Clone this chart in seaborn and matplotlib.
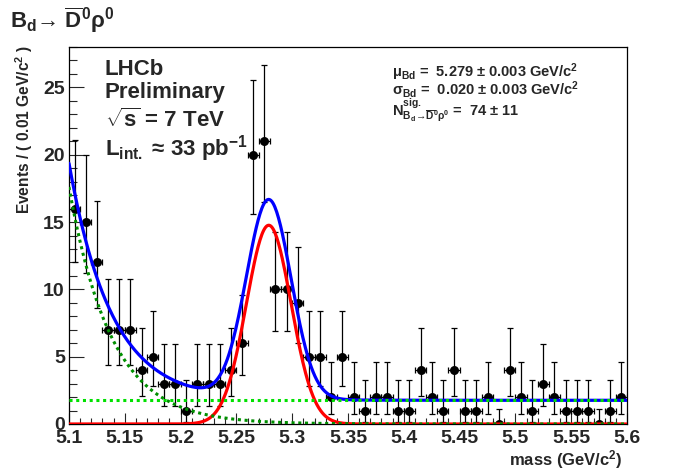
import numpy as np
import pandas as pd
import matplotlib
matplotlib.use("Agg")
import matplotlib.pyplot as plt
import seaborn as sns
from matplotlib.ticker import MultipleLocator, FuncFormatter

# binned data: 50 bins of 0.01 GeV/c^2 from 5.10 to 5.60
bin_lo = 5.10
bin_width = 0.01
counts = [16, 15, 12, 7, 7, 7, 4, 5, 3, 3,
          1, 3, 3, 3, 4, 6, 20, 21, 10, 10,
          9, 5, 5, 2, 5, 2, 1, 2, 2, 1,
          1, 4, 2, 1, 4, 1, 1, 2, 0, 4,
          2, 1, 3, 2, 1, 1, 1, 0, 1, 2]

# 68% Poisson intervals (as drawn by RooFit) for the counts that occur
poisson_band = {
    0: (0.0, 1.148), 1: (0.173, 3.300), 2: (0.708, 4.638), 3: (1.367, 5.918),
    4: (2.086, 7.163), 5: (2.840, 8.382), 6: (3.620, 9.584), 7: (4.418, 10.77),
    9: (6.053, 13.11), 10: (6.891, 14.27), 12: (8.589, 16.57), 15: (11.19, 19.96),
    16: (12.06, 21.09), 20: (15.61, 25.55), 21: (16.50, 26.66),
}

# fit result
mu_bd = 5.279
sigma_bd = 0.020
n_sig = 74
bkg_flat = 1.76        # events / bin
bkg_exp_amp = 17.6     # events / bin at 5.10
bkg_exp_tau = 0.038

# ---- build tables
centers = bin_lo + bin_width * (np.arange(len(counts)) + 0.5)
df = pd.DataFrame({"mass": centers, "events": counts})
df["lo"] = [c - poisson_band[c][0] for c in counts]
df["hi"] = [poisson_band[c][1] - c for c in counts]

m = np.linspace(5.10, 5.60, 600)
sig = n_sig * bin_width / (np.sqrt(2 * np.pi) * sigma_bd) * np.exp(-0.5 * ((m - mu_bd) / sigma_bd) ** 2)
bexp = bkg_exp_amp * np.exp(-(m - bin_lo) / bkg_exp_tau)
bflat = np.full_like(m, bkg_flat)
curves = pd.DataFrame({"mass": m, "sig": sig, "exp": bexp, "flat": bflat,
                       "total": sig + bexp + bflat})

# ---- style
sns.set_style("white")
plt.rcParams["font.family"] = ["Liberation Sans", "DejaVu Sans"]
plt.rcParams["font.weight"] = "bold"
plt.rcParams["mathtext.fontset"] = "custom"
plt.rcParams["mathtext.rm"] = "Liberation Sans:bold"
plt.rcParams["mathtext.it"] = "Liberation Sans:bold"
plt.rcParams["mathtext.bf"] = "Liberation Sans:bold"
plt.rcParams["mathtext.sf"] = "Liberation Sans:bold"

fig = plt.figure(figsize=(6.96, 4.72), dpi=100)
ax = fig.add_axes([69 / 696, 1 - 424 / 472, 558 / 696, 377 / 472])

ax.errorbar(df["mass"], df["events"], xerr=bin_width / 2, yerr=[df["lo"], df["hi"]],
            fmt="none", ecolor="black", elinewidth=0.9, capsize=2.2, capthick=0.9, zorder=2)
sns.scatterplot(data=df, x="mass", y="events", ax=ax, color="black", s=42,
                edgecolor="black", linewidth=0, zorder=3, legend=False)

sns.lineplot(data=curves, x="mass", y="sig", ax=ax, color="#ff0000", lw=2.3, zorder=4)
sns.lineplot(data=curves, x="mass", y="total", ax=ax, color="#0000ff", lw=2.3, zorder=5)
sns.lineplot(data=curves, x="mass", y="exp", ax=ax, color="#008f00", lw=2.2,
             linestyle=(0, (1, 1.2)), zorder=6)
sns.lineplot(data=curves, x="mass", y="flat", ax=ax, color="#00e000", lw=2.2,
             linestyle=(0, (1, 1.2)), zorder=6)

ax.set_xlim(5.10, 5.60)
ax.set_ylim(0, 28)
ax.xaxis.set_major_locator(MultipleLocator(0.05))
ax.xaxis.set_minor_locator(MultipleLocator(0.01))
ax.yaxis.set_major_locator(MultipleLocator(5))
ax.yaxis.set_minor_locator(MultipleLocator(1))
ax.xaxis.set_major_formatter(FuncFormatter(lambda v, p: f"{v:g}"))
ax.tick_params(axis="x", which="major", direction="in", length=8, width=0.8,
               labelsize=14, pad=4, bottom=True, top=False)
ax.tick_params(axis="x", which="minor", direction="in", length=4, width=0.8,
               bottom=True, top=False)
ax.tick_params(axis="y", which="major", direction="in", length=11, width=0.8,
               labelsize=14, pad=3, left=True, right=False)
ax.tick_params(axis="y", which="minor", direction="in", length=5.5, width=0.8,
               left=True, right=False)
for s in ax.spines.values():
    s.set_color("black")
    s.set_linewidth(0.9)
ax.set_xlabel("")
ax.set_ylabel("")

# axis titles, right/top aligned like ROOT
fig.text(623 / 696, 1 - 460 / 472, "mass (GeV/c$^{2}$)", fontsize=12,
         fontweight="bold", ha="right", va="center")
fig.text(24 / 696, 1 - 45 / 472, "Events / ( 0.01 GeV/c$^{2}$ )", fontsize=11.2,
         fontweight="bold", rotation=90, ha="center", va="top")

# title and text boxes
fig.text(10 / 696, 1 - 28 / 472, "B$_{\\mathrm{d}}$→ $\\overline{\\mathrm{D}}^{0}$ρ$^{0}$",
         fontsize=16, fontweight="bold", va="baseline")

lhcb = ["LHCb", "Preliminary", r"$\sqrt{\mathrm{s}}$ = 7 TeV",
        "L$_{\\mathrm{int.}}$ ≈ 33 pb$^{-1}$"]
lhcb_y = [75, 98, 127, 155]
for t, y in zip(lhcb, lhcb_y):
    fig.text(105 / 696, 1 - y / 472, t, fontsize=16, fontweight="bold", va="baseline")

fit_txt = ["μ$_{\\mathrm{Bd}}$ =  5.279 ± 0.003 GeV/c$^{2}$",
           "σ$_{\\mathrm{Bd}}$ =  0.020 ± 0.003 GeV/c$^{2}$",
           r"N$^{\mathrm{sig.}}_{\mathrm{B_d\!\rightarrow\!\overline{D}^0\rho^0}}$ =  74 ± 11"]
fit_y = [77, 95, 116]
for t, y in zip(fit_txt, fit_y):
    fig.text(392 / 696, 1 - y / 472, t, fontsize=10.5, fontweight="bold", va="baseline")

fig.savefig("out.png", dpi=100, facecolor="white")
